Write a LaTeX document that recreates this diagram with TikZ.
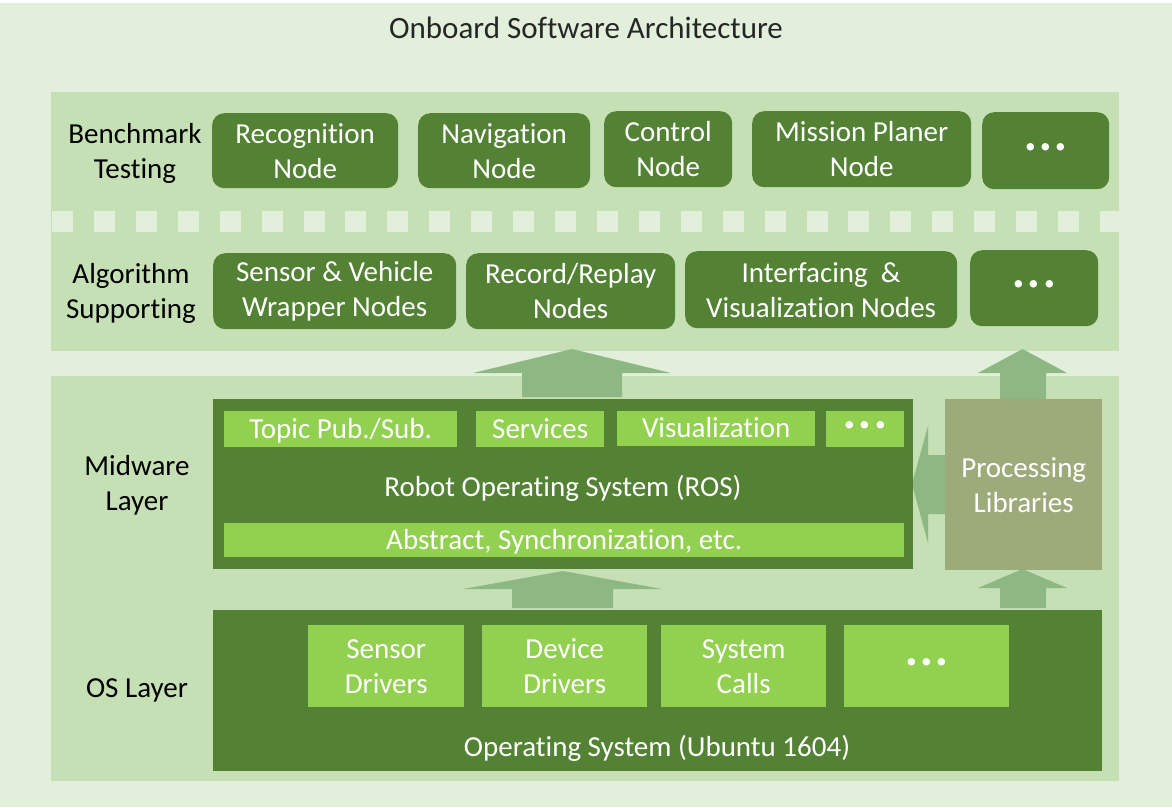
\documentclass[tikz,border=0pt]{standalone}
\usepackage{fontspec}
\setmainfont{Carlito}[Ligatures={NoCommon}]
\definecolor{outerbg}{HTML}{E2EFDA}
\definecolor{band}{HTML}{C5E0B4}
\definecolor{dkgreen}{HTML}{548235}
\definecolor{ltgreen}{HTML}{92D050}
\definecolor{proc}{HTML}{9DAB7B}
\definecolor{arr}{HTML}{8EB883}
\newcommand{\tdots}{{\fontsize{40}{40}\selectfont\bfseries ·\hspace{4.5pt}·\hspace{4.5pt}·}}
\begin{document}
\begin{tikzpicture}[x=1pt,y=-1pt,
  every node/.style={font=\fontsize{29}{35}\selectfont},
  rnode/.style={fill=dkgreen, rounded corners=12pt, text=white, align=center, inner sep=0pt, anchor=north west},
  sqbox/.style={fill=dkgreen, text=white, align=center, inner sep=0pt, anchor=north west},
  lbox/.style={fill=ltgreen, text=white, align=center, inner sep=0pt, anchor=north west},
  oneline/.style={text height=24pt, text depth=6pt},
  procbox/.style={fill=proc, text=white, align=center, inner sep=0pt, anchor=north west},
  lbl/.style={text=black, align=center, inner sep=0pt},
  wtxt/.style={text=white, align=center, inner sep=0pt},
  blockarrow/.style={fill=arr}]
\useasboundingbox (0,0) rectangle (1172,807);
\fill[white] (0,0) rectangle (1172,807);
\fill[outerbg] (0,3) rectangle (1172,807);
\node[lbl, text=black!85, font=\fontsize{31}{37}\selectfont] (title) at (586,28) {Onboard Software Architecture};
% upper band
\fill[band] (51,92) rectangle (1119,351);
\begin{scope}
  \clip (51,92) rectangle (1119,351);
  \foreach \i in {0,...,25} {
    \fill[outerbg] ({52+41.92*\i},211) rectangle ({73+41.92*\i},232);
  }
\end{scope}
% lower band
\fill[band] (51,376) rectangle (1119,781);
% labels
\node[lbl] (lbench) at (135,153) {Benchmark\\Testing};
\node[lbl] (lalgo) at (131,293) {Algorithm\\Supporting};
\node[lbl] (lmid) at (137,485) {Midware\\Layer};
\node[lbl, oneline] (los) at (137,688) {OS Layer};
% benchmark nodes
\node[rnode, minimum width=186pt, minimum height=75pt] (rec) at (212,113) {Recognition\\Node};
\node[rnode, minimum width=172pt, minimum height=75pt] (nav) at (418,113) {Navigation\\Node};
\node[rnode, minimum width=128pt, minimum height=76pt] (ctl) at (604,111) {Control\\Node};
\node[rnode, minimum width=219pt, minimum height=76pt] (mis) at (752,111) {Mission Planer\\Node};
\node[rnode, minimum width=127pt, minimum height=77pt] (bdots) at (982,112) {\tdots};
% algorithm nodes
\node[rnode, minimum width=243pt, minimum height=76pt] (sens) at (213,253) {Sensor \& Vehicle\\Wrapper Nodes};
\node[rnode, minimum width=209pt, minimum height=76pt] (recrep) at (466,253) {Record/Replay\\Nodes};
\node[rnode, minimum width=272pt, minimum height=77pt] (intf) at (685,251) {Interfacing~ \&\\Visualization Nodes};
\node[rnode, minimum width=128pt, minimum height=76pt] (adots) at (970,250) {\tdots};
% arrows
\fill[blockarrow] (522,397) -- (522,373) -- (473,373) -- (572,349) -- (671,373) -- (622,373) -- (622,397) -- cycle;
\fill[blockarrow] (1000,399) -- (1000,373) -- (978,373) -- (1022.5,349) -- (1067,373) -- (1046,373) -- (1046,399) -- cycle;
\fill[blockarrow] (512,608) -- (512,589) -- (463,589) -- (563,571) -- (662,589) -- (613,589) -- (613,608) -- cycle;
\fill[blockarrow] (1000,608) -- (1000,588) -- (978,588) -- (1022.5,569) -- (1067,588) -- (1046,588) -- (1046,608) -- cycle;
\fill[blockarrow] (945,455) -- (928,455) -- (928,426) -- (912,484) -- (928,543) -- (928,514) -- (945,514) -- cycle;
% ROS
\node[sqbox, minimum width=700pt, minimum height=170pt] (ros) at (213,399) {};
\node[lbox, oneline, minimum width=233pt, minimum height=36pt] (topic) at (224,411) {Topic Pub./Sub.};
\node[lbox, oneline, minimum width=128pt, minimum height=36pt] (serv) at (476,411) {Services};
\node[lbox, oneline, minimum width=198pt, minimum height=35pt] (vis) at (617,411) {Visualization};
\node[lbox, minimum width=78pt, minimum height=36pt] (rdots) at (826,411) {\tdots};
\node[wtxt, oneline] (rostxt) at (563,487) {Robot Operating System (ROS)};
\node[lbox, oneline, minimum width=680pt, minimum height=34pt] (abs) at (224,523) {Abstract, Synchronization, etc.};
% processing libraries
\node[procbox, minimum width=157pt, minimum height=171pt] (plib) at (945,399) {Processing\\Libraries};
% OS
\node[sqbox, minimum width=889pt, minimum height=161pt] (os) at (213,610) {};
\node[lbox, minimum width=156pt, minimum height=82pt] (sdrv) at (308,625) {Sensor\\Drivers};
\node[lbox, minimum width=165pt, minimum height=82pt] (ddrv) at (482,625) {Device\\Drivers};
\node[lbox, minimum width=165pt, minimum height=82pt] (scall) at (661,625) {System\\Calls};
\node[lbox, minimum width=165pt, minimum height=82pt] (odots) at (844,625) {\tdots};
\node[wtxt, oneline] (ostxt) at (657,747) {Operating System (Ubuntu 1604)};
\end{tikzpicture}
\end{document}
